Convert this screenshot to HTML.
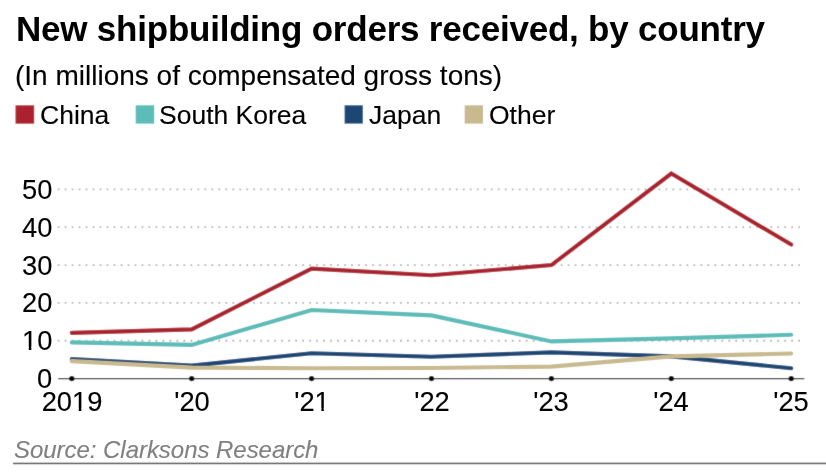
<!DOCTYPE html>
<html><head><meta charset="utf-8"><style>
html,body{margin:0;padding:0;background:#fff;}
body{width:826px;height:474px;position:relative;overflow:hidden;font-family:"Liberation Sans",Arial,sans-serif;color:#000;}
.t{position:absolute;white-space:nowrap;line-height:1;will-change:transform;-webkit-text-stroke:0.12px currentColor;}
#title{left:16px;top:10.5px;font-size:35px;letter-spacing:-0.22px;font-weight:bold;-webkit-text-stroke:0;}
#sub{left:15px;top:62.1px;font-size:28px;}
.lt{top:102px;font-size:26.5px;}
.yl{right:774px;font-size:27.3px;line-height:32px;height:32px;text-align:right;}
.xl{top:387.5px;width:100px;text-align:center;font-size:27.3px;}
#src{left:14px;top:438px;font-size:24px;letter-spacing:-0.04px;font-style:italic;color:#808080;}
svg{position:absolute;left:0;top:0;}
#gfx{position:absolute;left:0;top:0;width:826px;height:474px;filter:url(#soft);}
.g{stroke:#b5b5b5;stroke-width:1.8;stroke-dasharray:1.8 5.186;}
.s{fill:none;stroke-width:4.1;stroke-linejoin:miter;stroke-linecap:round;}
</style></head><body>
<svg width="0" height="0"><filter id="soft" x="0" y="0" width="826" height="474" filterUnits="userSpaceOnUse"><feConvolveMatrix order="3" kernelMatrix="1 8 1 8 64 8 1 8 1" divisor="100" edgeMode="duplicate"/></filter></svg>
<div id="gfx"><svg width="826" height="474" viewBox="0 0 826 474">
<rect x="0" y="0" width="826" height="474" fill="#fff"/>
<rect x="15.5" y="105.3" width="18.7" height="18.4" fill="#ab242d"/>
<rect x="135.7" y="105.3" width="18.5" height="18.3" fill="#5bbcb8"/>
<rect x="344.6" y="105.3" width="18.2" height="18.3" fill="#1a4675"/>
<rect x="464.7" y="105.3" width="18.3" height="18.3" fill="#c8ba8e"/>
<line x1="57.7" y1="340.75" x2="800" y2="340.75" class="g"/><line x1="57.7" y1="302.90" x2="800" y2="302.90" class="g"/><line x1="57.7" y1="265.05" x2="800" y2="265.05" class="g"/><line x1="57.7" y1="227.20" x2="800" y2="227.20" class="g"/><line x1="57.7" y1="189.35" x2="800" y2="189.35" class="g"/>
<line x1="58.3" y1="378.6" x2="804.3" y2="378.6" stroke="#333" stroke-width="1.3"/>
<g fill="#000"><circle cx="71.8" cy="378.6" r="2.7"/><circle cx="191.7" cy="378.6" r="2.7"/><circle cx="311.6" cy="378.6" r="2.7"/><circle cx="431.5" cy="378.6" r="2.7"/><circle cx="551.4" cy="378.6" r="2.7"/><circle cx="671.3" cy="378.6" r="2.7"/><circle cx="791.2" cy="378.6" r="2.7"/></g>
<polyline class="s" stroke="#1a4675" points="71.8,359.1 191.7,365.6 311.6,353.2 431.5,356.7 551.4,352.4 671.3,356.4 791.2,368.2"/>
<polyline class="s" stroke="#c8ba8e" points="71.8,361.1 191.7,367.6 311.6,368.2 431.5,368.0 551.4,366.6 671.3,356.4 791.2,353.5"/>
<polyline class="s" stroke="#5bbcb8" points="71.8,342.4 191.7,344.9 311.6,310.0 431.5,315.4 551.4,341.4 671.3,338.4 791.2,334.8"/>
<polyline class="s" stroke="#ab242d" points="71.8,332.9 191.7,329.4 311.6,268.6 431.5,275.2 551.4,265.1 671.3,173.5 791.2,244.6"/>
<rect x="13" y="462.7" width="813" height="1.5" fill="#4d4d4d"/>
</svg></div>
<div class="t" id="title">New shipbuilding orders received, by country</div>
<div class="t" id="sub">(In millions of compensated gross tons)</div>
<div class="t lt" style="left:39.5px">China</div>
<div class="t lt" style="left:159px">South Korea</div>
<div class="t lt" style="left:369px">Japan</div>
<div class="t lt" style="left:489px">Other</div>
<div class="t yl" style="top:363.0px">0</div><div class="t yl" style="top:325.1px">10</div><div class="t yl" style="top:287.3px">20</div><div class="t yl" style="top:249.5px">30</div><div class="t yl" style="top:211.6px">40</div><div class="t yl" style="top:173.8px">50</div>
<div class="t xl" style="left:21.8px">2019</div><div class="t xl" style="left:141.7px">'20</div><div class="t xl" style="left:261.6px">'21</div><div class="t xl" style="left:381.5px">'22</div><div class="t xl" style="left:501.4px">'23</div><div class="t xl" style="left:621.3px">'24</div><div class="t xl" style="left:741.2px">'25</div>
<div class="t" id="src">Source: Clarksons Research</div>
<svg width="826" height="474" viewBox="0 0 826 474" fill="#fff">
<rect x="72.5" y="408" width="6.26" height="4"/><rect x="81.36" y="408" width="5.6" height="4"/>
<rect x="315" y="408" width="6.33" height="4"/><rect x="323.79" y="408" width="5.7" height="4"/>
<rect x="22.5" y="347" width="6.26" height="4"/><rect x="31.36" y="347" width="5.6" height="4"/>
</svg>
</body></html>
